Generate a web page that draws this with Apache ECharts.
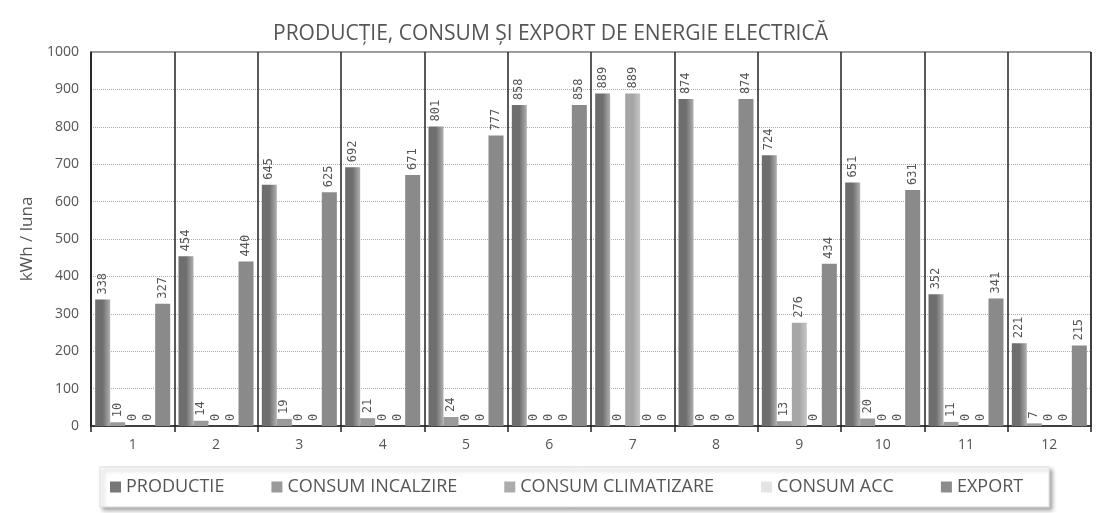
<!DOCTYPE html>
<html><head><meta charset="utf-8">
<script src="https://cdn.jsdelivr.net/npm/echarts@6/dist/echarts.min.js"></script>
<style>html,body{margin:0;padding:0;background:#fff}#c{width:1101px;height:513px}</style>
</head><body><div id="c"></div>
<script>
const categories = ['1','2','3','4','5','6','7','8','9','10','11','12'];
const productie = [338,454,645,692,801,858,889,874,724,651,352,221];
const consumIncalzire = [10,14,19,21,24,0,0,0,13,20,11,7];
const consumClimatizare = [0,0,0,0,0,0,889,0,276,0,0,0];
const consumAcc = [0,0,0,0,0,0,0,0,0,0,0,0];
const exportE = [327,440,625,671,777,858,0,874,434,631,341,215];
const seriesNames = ['PRODUCTIE','CONSUM INCALZIRE','CONSUM CLIMATIZARE','CONSUM ACC','EXPORT'];

const FONT = "'Open Sans',sans-serif";
function grad(a,b){return new echarts.graphic.LinearGradient(0,0,1,0,[{offset:0,color:a},{offset:0.5,color:a},{offset:1,color:b}]);}
const colors = [grad('#6e6e6e','#b0b0b0'),'#9a9a9a',grad('#a6a6a6','#c6c6c6'),'#e2e2e2','#8a8a8a'];
const legendColors = ['#777','#9a9a9a','#acacac','#e4e4e4','#8c8c8c'];
const datas = [productie,consumIncalzire,consumClimatizare,consumAcc,exportE];

const chart = echarts.init(document.getElementById('c'));
chart.setOption({
  animation:false,
  title:{text:'PRODUCȚIE, CONSUM ȘI EXPORT DE ENERGIE ELECTRICĂ',left:'center',top:19,
    textStyle:{fontFamily:FONT,fontSize:21,fontWeight:'normal',color:'#555'}},
  grid:{left:91,right:10,top:52,bottom:87,show:true,borderColor:'#333',borderWidth:1},
  legend:{bottom:6,left:100,itemWidth:11,itemHeight:11,itemGap:47,icon:'rect',
    padding:[11,26,11,10],backgroundColor:'#fff',borderColor:'#ddd',borderWidth:1,
    shadowColor:'rgba(0,0,0,0.35)',shadowBlur:4,shadowOffsetX:3,shadowOffsetY:3,
    textStyle:{fontFamily:FONT,fontSize:18,color:'#555'},
    data:seriesNames.map((n,i)=>({name:n,itemStyle:{color:legendColors[i]}}))},
  xAxis:{type:'category',data:categories,
    axisLine:{lineStyle:{color:'#222',width:1.5}},
    axisTick:{show:true,length:6,lineStyle:{color:'#222',width:1.5}},
    splitLine:{show:true,lineStyle:{color:'#222',width:1.5}},
    axisLabel:{fontFamily:FONT,fontSize:14,color:'#555',margin:12}},
  yAxis:{type:'value',min:0,max:1000,interval:100,
    name:'kWh / luna',nameLocation:'middle',nameGap:50,nameRotate:90,
    nameTextStyle:{fontFamily:FONT,fontSize:17,color:'#555'},
    axisLine:{show:true,lineStyle:{color:'#222',width:1.5}},
    axisTick:{show:false},
    splitLine:{show:true,lineStyle:{color:'#aaa',type:'dotted',width:1}},
    axisLabel:{fontFamily:FONT,fontSize:14,color:'#555',margin:12,formatter:v=>String(v)}},
  series:datas.map((d,i)=>({
    name:seriesNames[i],type:'bar',data:d,barGap:'0%',barCategoryGap:'10%',
    itemStyle:{color:colors[i]},
    label:{show:true,position:'top',rotate:90,align:'left',verticalAlign:'middle',distance:5,
      fontFamily:"'DejaVu Sans Mono',monospace",fontSize:12,color:'#555'}
  }))
});
</script></body></html>
